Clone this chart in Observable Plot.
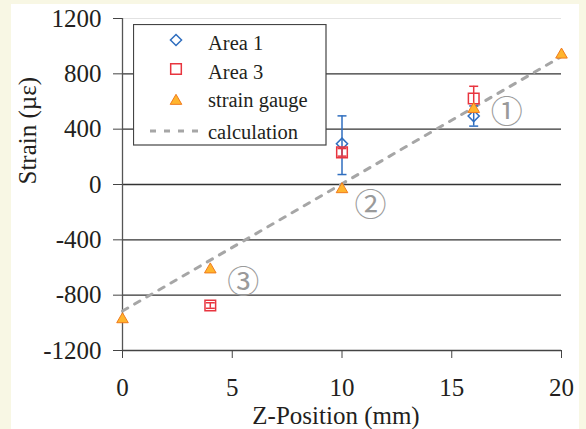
<!DOCTYPE html>
<html>
<head>
<meta charset="utf-8">
<script src="https://cdn.jsdelivr.net/npm/d3@7"></script>
<script src="https://cdn.jsdelivr.net/npm/@observablehq/plot@0.6"></script>
<style>
  html, body { margin: 0; padding: 0; background: #f8f7e4; }
  #wrap { position: relative; width: 586px; height: 429px; overflow: hidden; }
  #panel { position: absolute; left: 11px; top: 4px; width: 568px; height: 425px; background: #fff; }
  #chart { position: absolute; left: 0; top: 0; }
  #legend { position: absolute; left: 133px; top: 24px; }
</style>
</head>
<body>
<div id="wrap">
  <div id="panel"></div>
  <div id="chart"></div>
  <div id="legend"></div>
</div>
<script>
// ---- data ----
const gaugeX = [0, 4, 10, 16, 20];
const gaugeY = [-975, -615, -35, 545, 938];

const area1X = [10, 16];
const area1Y = [295, 495];
const area1Lo = [72, 422];
const area1Hi = [496, 568];

const area3X = [4, 10, 16];
const area3Y = [-875, 232, 622];
const area3Lo = [-895, 205, 535];
const area3Hi = [-855, 260, 710];

const calcX = [0, 20];
const calcY = [-915, 925];

const noteText = ["①", "②", "③"];
const noteX = [17.5, 11.3, 5.5];
const noteY = [520, -150, -710];

const xTicks = [0, 5, 10, 15, 20];
const yTicks = [-1200, -800, -400, 0, 400, 800, 1200];
const gridY = [-800, -400, 0, 400, 800];

const seriesNames = ["Area 1", "Area 3", "strain gauge", "calculation"];
const xTitle = "Z-Position (mm)";
const yTitle = "Strain (µε)";

// ---- tables ----
const gauge = gaugeX.map((x, i) => ({x, y: gaugeY[i]}));
const area1 = area1X.map((x, i) => ({x, y: area1Y[i], lo: area1Lo[i], hi: area1Hi[i]}));
const area3 = area3X.map((x, i) => ({x, y: area3Y[i], lo: area3Lo[i], hi: area3Hi[i]}));
const calc = calcX.map((x, i) => ({x, y: calcY[i]}));
const notes = noteText.map((t, i) => ({t, x: noteX[i], y: noteY[i]}));

const BLUE = "#2f6ebf", RED = "#e8353f", TRI_FILL = "#ffb52e", TRI_STROKE = "#f07a1c", CALC = "#a6a6a6";
const INK = "#231f20";
const cap = {draw(ctx) { ctx.moveTo(-4.5, 0); ctx.lineTo(4.5, 0); }};
const SERIF = "Liberation Serif";

const chart = Plot.plot({
  width: 586,
  height: 429,
  marginLeft: 122,
  marginRight: 25,
  marginTop: 18,
  marginBottom: 79,
  style: {background: "transparent", fontFamily: SERIF, fontSize: "25px", color: INK},
  x: {domain: [0, 20]},
  y: {domain: [-1200, 1200]},
  marks: [
    Plot.ruleY([1200], {stroke: "#e2e2e2", strokeWidth: 1}),
    Plot.ruleY(gridY, {stroke: "#333", strokeWidth: 1.3}),
    Plot.ruleY([-1200], {stroke: "#444", strokeWidth: 1.3}),
    Plot.ruleX([0], {stroke: "#555", strokeWidth: 1.3}),
    Plot.axisY({ticks: yTicks, tickSize: 9, tickPadding: 12, tickFormat: d => String(d), stroke: "#444", label: null, fontSize: 25, fill: INK, fontFamily: SERIF}),
    Plot.axisX({ticks: xTicks, tickSize: 8, tickPadding: 20, tickFormat: d => String(d), stroke: "#444", label: null, fontSize: 25, fill: INK, fontFamily: SERIF}),
    Plot.line(calc, {x: "x", y: "y", stroke: CALC, strokeWidth: 3, strokeDasharray: "6,8"}),
    // Area 1
    Plot.ruleX(area1, {x: "x", y1: "lo", y2: "hi", stroke: BLUE, strokeWidth: 1.5}),
    Plot.dot(area1, {x: "x", y: "lo", symbol: cap, stroke: BLUE, strokeWidth: 1.5}),
    Plot.dot(area1, {x: "x", y: "hi", symbol: cap, stroke: BLUE, strokeWidth: 1.5}),
    Plot.dot(area1, {x: "x", y: "y", symbol: "diamond2", r: 5, stroke: BLUE, fill: "none", strokeWidth: 1.5}),
    // Area 3
    Plot.ruleX(area3, {x: "x", y1: "lo", y2: "hi", stroke: RED, strokeWidth: 1.5}),
    Plot.dot(area3, {x: "x", y: "lo", symbol: cap, stroke: RED, strokeWidth: 1.5}),
    Plot.dot(area3, {x: "x", y: "hi", symbol: cap, stroke: RED, strokeWidth: 1.5}),
    Plot.dot(area3, {x: "x", y: "y", symbol: "square", r: 6, stroke: RED, fill: "none", strokeWidth: 1.5}),
    // strain gauge
    Plot.dot(gauge, {x: "x", y: "y", symbol: "triangle", r: 4.3, fill: TRI_FILL, stroke: TRI_STROKE, strokeWidth: 1}),
    // circled region labels
    Plot.text(notes, {x: "x", y: "y", text: "t", fill: "#9a9a9a", fontSize: 32, fontFamily: "Noto Sans CJK JP"}),
    // axis titles
    Plot.text([xTitle], {frameAnchor: "bottom", lineAnchor: "middle", dy: 65, dx: -6, fontSize: 25, fill: INK, fontFamily: SERIF}),
    Plot.text([yTitle], {frameAnchor: "left", lineAnchor: "middle", dx: -95, rotate: -90, fontSize: 25, fill: INK, fontFamily: SERIF})
  ]
});
document.getElementById("chart").appendChild(chart);

// ---- legend ----
const ns = "http://www.w3.org/2000/svg";
const lg = document.createElementNS(ns, "svg");
lg.setAttribute("width", 194);
lg.setAttribute("height", 122);
const rowsY = [16, 45, 77, 107];
const textY = [18.5, 47.5, 76, 107.5];
let html = `<rect x="0.5" y="0.5" width="192.5" height="120.5" fill="#fff" stroke="#444" stroke-width="1.2"/>`;
const mx = 43;
const sym = (type, size) => d3.symbol(type, size)();
html += `<path d="${sym(d3.symbolDiamond2, Math.PI*25)}" transform="translate(${mx},${rowsY[0]})" fill="none" stroke="${BLUE}" stroke-width="1.5"/>`;
html += `<path d="${sym(d3.symbolSquare, Math.PI*36)}" transform="translate(${mx},${rowsY[1]})" fill="none" stroke="${RED}" stroke-width="1.5"/>`;
html += `<path d="${sym(d3.symbolTriangle, Math.PI*4.3*4.3)}" transform="translate(${mx},${rowsY[2]})" fill="${TRI_FILL}" stroke="${TRI_STROKE}" stroke-width="1"/>`;
html += `<line x1="17" x2="67" y1="${rowsY[3]}" y2="${rowsY[3]}" stroke="${CALC}" stroke-width="3" stroke-dasharray="6,8"/>`;
seriesNames.forEach((n, i) => {
  html += `<text x="75" y="${textY[i]}" dy="0.35em" font-size="20.5" fill="${INK}" font-family="${SERIF}">${n}</text>`;
});
lg.innerHTML = html;
document.getElementById("legend").appendChild(lg);
</script>
</body>
</html>
